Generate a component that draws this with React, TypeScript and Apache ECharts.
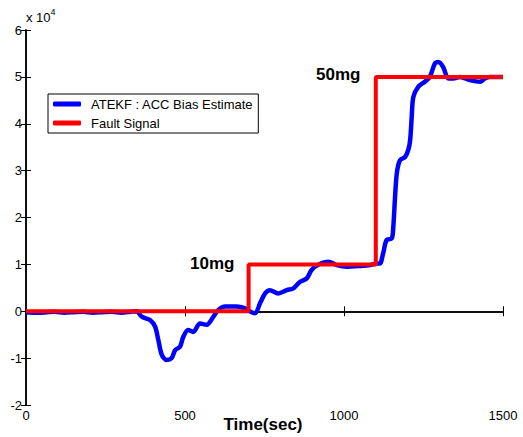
import React, { useEffect, useRef } from "react";
import * as echarts from "echarts";

const biasTime = [0, 30, 60, 90, 120, 150, 180, 210, 240, 270, 300, 330, 348, 364, 390, 406, 416, 427, 442, 458, 469, 484, 495, 510, 526, 547, 568, 589, 605, 626, 663, 689, 694, 720, 736, 752, 767, 793, 820, 841, 862, 883, 898, 919, 951, 977, 1008, 1050, 1082, 1103, 1113, 1123, 1134, 1150, 1155, 1160, 1166, 1176, 1192, 1202, 1208, 1213, 1218, 1234, 1255, 1270, 1286, 1297, 1312, 1328, 1344, 1365, 1396, 1428, 1443, 1459, 1485, 1500];
const biasValue = [-200, -300, -250, -100, -300, -200, -100, -300, -200, -100, -300, -100, 0, -1170, -1880, -3300, -6100, -9300, -10400, -10000, -8300, -7600, -5400, -4000, -4400, -2600, -2900, -1200, 300, 1000, 1000, 600, 300, -450, 1700, 3800, 4500, 3800, 4500, 4900, 6300, 7000, 8800, 9900, 10550, 9850, 9500, 9650, 9850, 10200, 10200, 12350, 15200, 15500, 18000, 23700, 29400, 32200, 32900, 34400, 36500, 41500, 45700, 47900, 49000, 50000, 52900, 53200, 52100, 49650, 49650, 50000, 49300, 48950, 49650, 50000, 50000, 50000];

const faultTime = [0, 700, 700, 1100, 1100, 1500];
const faultValue = [0, 0, 10000, 10000, 50000, 50000];

const xTicks = [0, 500, 1000, 1500];
const yTicks = [-2, -1, 0, 1, 2, 3, 4, 5, 6];
const yScale = 10000;

const seriesNames = ["ATEKF : ACC Bias Estimate", "Fault Signal"];
const annotations = ["10mg", "50mg"];
const xAxisTitle = "Time(sec)";

export default function App() {
  const ref = useRef<HTMLDivElement>(null);
  useEffect(() => {
    if (!ref.current) return;
    const chart = echarts.init(ref.current, null, { renderer: "svg" });
    const font = "Liberation Sans, Arial, sans-serif";
    const axisCommon = {
      axisLine: { lineStyle: { color: "#000", width: 1.5 } },
      axisTick: { inside: true, length: 5, lineStyle: { color: "#000", width: 1 } },
      splitLine: { show: false },
    };
    chart.setOption({
      animation: false,
      backgroundColor: "#fff",
      textStyle: { fontFamily: font },
      grid: { left: 26, right: 20, top: 30, bottom: 32, containLabel: false, outerBoundsMode: "none" },
      xAxis: [
        {
          type: "value",
          min: xTicks[0],
          max: xTicks[xTicks.length - 1],
          interval: 500,
          position: "bottom",
          ...axisCommon,
          axisLabel: { color: "#000", fontSize: 13, fontFamily: font, margin: 4, formatter: (v: number) => String(v) },
        },
        {
          type: "value",
          min: xTicks[0],
          max: xTicks[xTicks.length - 1],
          interval: 500,
          position: "top",
          ...axisCommon,
          axisLabel: { show: false },
        },
      ],
      yAxis: [
        {
          type: "value",
          min: yTicks[0] * yScale,
          max: yTicks[yTicks.length - 1] * yScale,
          interval: yScale,
          position: "left",
          ...axisCommon,
          axisLabel: {
            color: "#000",
            fontSize: 13,
            fontFamily: font,
            margin: 4,
            formatter: (v: number) => String(Math.round(v / yScale)),
          },
        },
        {
          type: "value",
          min: yTicks[0] * yScale,
          max: yTicks[yTicks.length - 1] * yScale,
          interval: yScale,
          position: "right",
          ...axisCommon,
          axisLabel: { show: false },
        },
      ],
      legend: {
        orient: "vertical",
        left: 48,
        top: 94,
        backgroundColor: "#fff",
        borderColor: "#000",
        borderWidth: 1,
        borderRadius: 0,
        padding: [3, 5, 3, 5],
        itemWidth: 28,
        itemHeight: 5,
        itemGap: 5,
        icon: "roundRect",
        data: seriesNames,
        textStyle: { color: "#000", fontSize: 13, lineHeight: 14, fontFamily: font, padding: [0, 0, 0, 5] },
      },
      series: [
        {
          name: seriesNames[0],
          type: "line",
          symbol: "none",
          smooth: 0.3,
          data: biasTime.map((t, i) => [t, biasValue[i]]),
          lineStyle: { color: "#0000ff", width: 4.5 },
          itemStyle: { color: "#0000ff" },
          z: 2,
        },
        {
          name: seriesNames[1],
          type: "line",
          symbol: "none",
          data: faultTime.map((t, i) => [t, faultValue[i]]),
          lineStyle: { color: "#ff0000", width: 4 },
          itemStyle: { color: "#ff0000" },
          z: 3,
        },
      ],
      graphic: [
        {
          type: "text",
          left: 26,
          top: 7,
          style: {
            text: "{a|x 10}{b|4}",
            rich: {
              a: { fontSize: 13, fontFamily: font, fill: "#000", verticalAlign: "bottom" },
              b: { fontSize: 9, fontFamily: font, fill: "#000", verticalAlign: "top", padding: [0, 0, 8, 0] },
            },
          },
        },
        {
          type: "text",
          x: 263,
          y: 424,
          style: {
            text: xAxisTitle,
            fontSize: 17,
            fontWeight: "bold",
            fontFamily: font,
            fill: "#000",
            align: "center",
            verticalAlign: "middle",
          },
        },
        {
          type: "text",
          x: 190,
          y: 263,
          style: { text: annotations[0], fontSize: 17, fontWeight: "bold", fontFamily: font, fill: "#000", verticalAlign: "middle" },
        },
        {
          type: "text",
          x: 316,
          y: 74,
          style: { text: annotations[1], fontSize: 17, fontWeight: "bold", fontFamily: font, fill: "#000", verticalAlign: "middle" },
        },
      ],
    });
    return () => chart.dispose();
  }, []);
  return <div ref={ref} style={{ width: 523, height: 437, position: "absolute", left: 0, top: 0 }} />;
}
